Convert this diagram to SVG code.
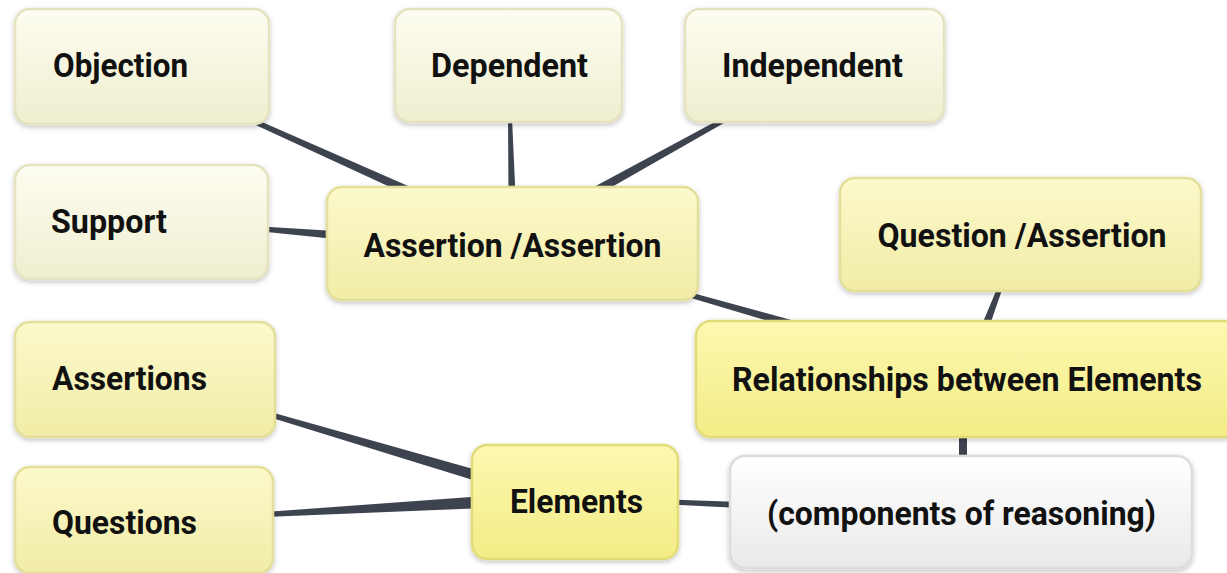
<svg xmlns="http://www.w3.org/2000/svg" width="1227" height="573" viewBox="0 0 1227 573">
  <defs>
    <linearGradient id="gCream" x1="0" y1="0" x2="0" y2="1">
      <stop offset="0" stop-color="#fdfdf1"/>
      <stop offset="1" stop-color="#efeecf"/>
    </linearGradient>
    <linearGradient id="gPale" x1="0" y1="0" x2="0" y2="1">
      <stop offset="0" stop-color="#fcf9cc"/>
      <stop offset="1" stop-color="#f1eca6"/>
    </linearGradient>
    <linearGradient id="gBright" x1="0" y1="0" x2="0" y2="1">
      <stop offset="0" stop-color="#fdf8b0"/>
      <stop offset="1" stop-color="#f3ec86"/>
    </linearGradient>
    <linearGradient id="gWhite" x1="0" y1="0" x2="0" y2="1">
      <stop offset="0" stop-color="#ffffff"/>
      <stop offset="1" stop-color="#e9e9e9"/>
    </linearGradient>
    <filter id="shadow" x="-10%" y="-10%" width="120%" height="130%">
      <feDropShadow dx="0" dy="2" stdDeviation="2.5" flood-color="#000" flood-opacity="0.24"/>
    </filter>
  </defs>
  <style>
    .box { stroke-width: 2.5; filter: url(#shadow); }
    .cream { fill: url(#gCream); stroke: #e4e2bf; }
    .pale { fill: url(#gPale); stroke: #e3df9a; }
    .bright { fill: url(#gBright); stroke: #e2dc78; }
    .white { fill: url(#gWhite); stroke: #dcdcdc; }
    .lbl { font-family: Roboto, "Liberation Sans", sans-serif; font-weight: 700; font-size: 33px; fill: #111; }
    .mid { text-anchor: middle; }
    .link { fill: #3e4350; }
  </style>

  <rect width="1227" height="573" fill="#ffffff"/>

  <!-- tapered links, drawn beneath the boxes -->
  <g id="connectors">
    <path class="link" d="M247.4,115.7 L419.6,190.9 L416.0,199.1 L245.4,120.3 Z"/>
    <path class="link" d="M508,118 L512,118 L515.5,195 L508.5,195 Z"/>
    <path class="link" d="M726.4,115.8 L586.4,191.1 L590.8,198.9 L728.8,120.2 Z"/>
    <path class="link" d="M262,226.5 L335,231 L335,239 L262,231.5 Z"/>
    <path class="link" d="M690.7,292.6 L796.1,321.2 L793.9,328.8 L689.3,297.4 Z"/>
    <path class="link" d="M997.7,287.1 L980.3,328.6 L987.7,331.4 L1002.3,288.9 Z"/>
    <path class="link" d="M959,430 L967,430 L967,462 L959,462 Z"/>
    <path class="link" d="M268.7,411.6 L486.6,472.7 L483.4,483.3 L267.3,416.4 Z"/>
    <path class="link" d="M264.9,512 L484.7,496 L485.3,508 L265.1,517 Z"/>
    <path class="link" d="M670,499.5 L740,502 L740,508 L670,504.5 Z"/>
  </g>

  <g id="objection">
    <rect class="box cream" x="15" y="9" width="254" height="115" rx="15"/>
    <text class="lbl" x="53" y="77" textLength="135" lengthAdjust="spacingAndGlyphs">Objection</text>
  </g>
  <g id="dependent">
    <rect class="box cream" x="395" y="9" width="227" height="113" rx="15"/>
    <text class="lbl mid" x="509.5" y="77" textLength="157" lengthAdjust="spacingAndGlyphs">Dependent</text>
  </g>
  <g id="independent">
    <rect class="box cream" x="685" y="9" width="259" height="113" rx="15"/>
    <text class="lbl mid" x="812.5" y="77" textLength="181" lengthAdjust="spacingAndGlyphs">Independent</text>
  </g>
  <g id="support">
    <rect class="box cream" x="15" y="165" width="253" height="114" rx="15"/>
    <text class="lbl" x="51" y="233" textLength="116" lengthAdjust="spacingAndGlyphs">Support</text>
  </g>
  <g id="assertion-assertion">
    <rect class="box pale" x="327" y="187" width="371" height="113" rx="15"/>
    <text class="lbl mid" x="512.5" y="257" textLength="298" lengthAdjust="spacingAndGlyphs">Assertion /Assertion</text>
  </g>
  <g id="question-assertion">
    <rect class="box pale" x="840" y="178" width="361" height="113" rx="15"/>
    <text class="lbl mid" x="1022" y="247" textLength="289" lengthAdjust="spacingAndGlyphs">Question /Assertion</text>
  </g>
  <g id="relationships">
    <rect class="box bright" x="696" y="321" width="545" height="116" rx="15"/>
    <text class="lbl mid" x="967" y="391" textLength="470" lengthAdjust="spacingAndGlyphs">Relationships between Elements</text>
  </g>
  <g id="assertions">
    <rect class="box pale" x="15" y="322" width="260" height="115" rx="15"/>
    <text class="lbl" x="52" y="390" textLength="155" lengthAdjust="spacingAndGlyphs">Assertions</text>
  </g>
  <g id="elements">
    <rect class="box bright" x="472" y="445" width="206" height="114" rx="15"/>
    <text class="lbl mid" x="576.5" y="513" textLength="133" lengthAdjust="spacingAndGlyphs">Elements</text>
  </g>
  <g id="questions">
    <rect class="box pale" x="15" y="467" width="258" height="106" rx="15"/>
    <text class="lbl" x="52" y="534" textLength="145" lengthAdjust="spacingAndGlyphs">Questions</text>
  </g>
  <g id="components">
    <rect class="box white" x="730" y="456" width="462" height="112" rx="15"/>
    <text class="lbl mid" x="961.5" y="525" textLength="389" lengthAdjust="spacingAndGlyphs">(components of reasoning)</text>
  </g>
</svg>
